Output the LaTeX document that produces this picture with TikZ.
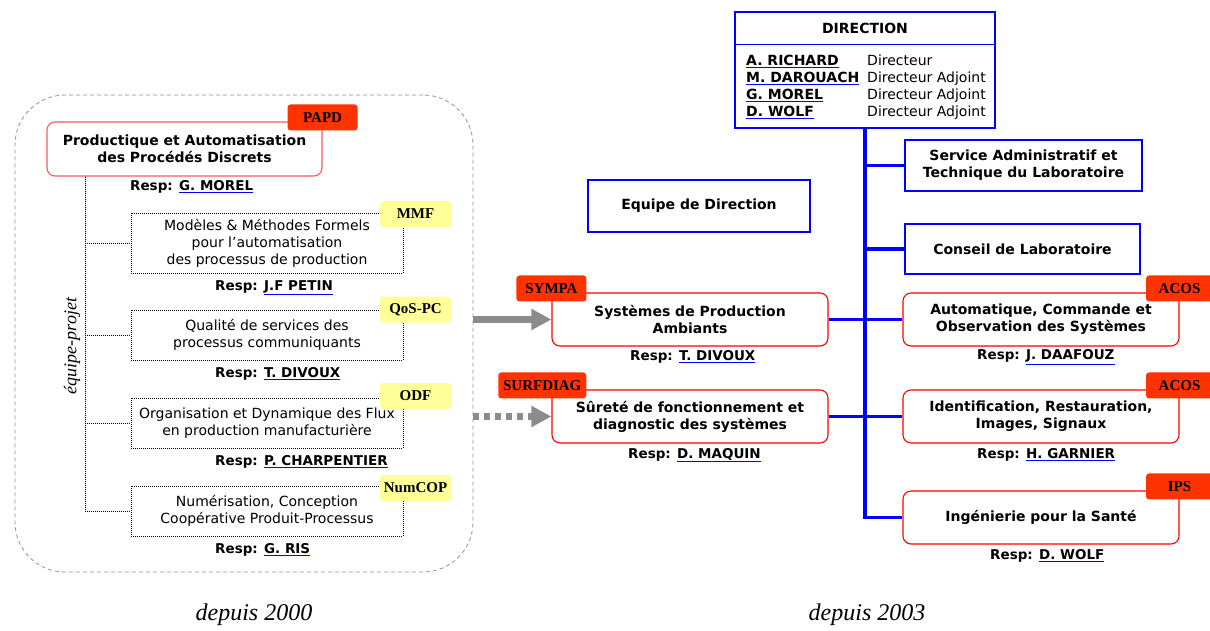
\documentclass[tikz,border=0pt]{standalone}
\usepackage{fontspec}
\setmainfont{DejaVu Sans}
\newfontfamily\tagfont{Liberation Serif}
\usetikzlibrary{arrows.meta,positioning}
\definecolor{tagred}{RGB}{255,51,0}
\definecolor{tagyellow}{RGB}{255,255,153}
\definecolor{linkgray}{RGB}{140,140,140}
\newcommand{\who}[1]{\textcolor{blue}{$\underline{\hbox{\color{black}#1}}$}}
\newcommand{\resp}[1]{\textbf{Resp: \who{#1}}}
\tikzset{
  frame/.style     = {shape=rectangle, rounded corners=50pt, draw=gray!85,
                      line width=0.8pt, dash pattern=on 4pt off 3pt,
                      minimum width=458pt, minimum height=477pt},
  papd/.style      = {shape=rectangle, rounded corners=8pt, draw=red!65,
                      line width=1.1pt, fill=white, align=center,
                      font=\bfseries\fontsize{14}{17}\selectfont,
                      minimum width=275pt, minimum height=54pt},
  team/.style      = {papd, draw=red, minimum width=276pt, minimum height=53pt},
  project/.style   = {shape=rectangle, draw, line width=0.9pt,
                      dash pattern=on 1pt off 1pt, fill=white, align=center,
                      font=\fontsize{14}{17}\selectfont,
                      minimum width=272pt, minimum height=50pt},
  service/.style   = {shape=rectangle, draw=blue, line width=1.3pt, align=center,
                      font=\bfseries\fontsize{14}{17}\selectfont,
                      minimum width=236pt, minimum height=51pt},
  redtag/.style    = {shape=rectangle, rounded corners=3pt, fill=tagred,
                      font=\tagfont\bfseries\fontsize{15}{15}\selectfont,
                      minimum width=70pt, minimum height=26pt, inner sep=1pt},
  yellowtag/.style = {redtag, fill=tagyellow, minimum width=71pt},
  resp/.style      = {font=\fontsize{13.5}{16}\selectfont, inner sep=0pt},
  leaf/.style      = {draw, line width=0.9pt, dash pattern=on 1pt off 1pt},
  trunk/.style     = {draw=blue, line width=3.5pt},
  move/.style      = {draw=linkgray, line width=6.5pt,
                      -{Triangle[length=20pt,width=20pt]}},
  era/.style       = {font=\tagfont\itshape\fontsize{24}{24}\selectfont}
}

\begin{document}
\begin{tikzpicture}[x=1pt,y=-1pt]
\useasboundingbox (0,0) rectangle (1210,630);

% depuis 2000
\node [frame] (frame) at (244,333.5) {};
\node [papd] (papd) at (184.5,149) {Productique et Automatisation\\des Procédés Discrets};
\node [redtag] (papdtag) at ([yshift=4pt]papd.north east) {PAPD};
\node [resp, anchor=west] (papdresp) at (130,187) {\resp{G. MOREL}};

\node [project, minimum height=60pt] (mmf) at (267,243)
  {Modèles \& Méthodes Formels\\pour l’automatisation\\des processus de production};
\node [project] (qos)    at (267,335) {Qualité de services des\\processus communiquants};
\node [project] (odf)    at (267,423) {Organisation et Dynamique des Flux\\en production manufacturière};
\node [project] (numcop) at (267,511) {Numérisation, Conception\\Coopérative Produit-Processus};
\node [yellowtag] (mmftag)    at (415.5,214)   {MMF};
\node [yellowtag] (qostag)    at (415.5,309.5) {QoS-PC};
\node [yellowtag] (odftag)    at (415.5,396)   {ODF};
\node [yellowtag] (numcoptag) at (415.5,488)   {NumCOP};
\node [resp, anchor=west] (mmfresp)    at (215,288) {\resp{J.F PETIN}};
\node [resp, anchor=west] (qosresp)    at (215,374) {\resp{T. DIVOUX}};
\node [resp, anchor=west] (odfresp)    at (215,462) {\resp{P. CHARPENTIER}};
\node [resp, anchor=west] (numcopresp) at (215,550) {\resp{G. RIS}};

\draw [leaf] ([xshift=39pt]papd.south west) |- (numcop.west);
\foreach \p in {mmf,qos,odf}
  \draw [leaf] ([xshift=39pt]papd.south west) |- (\p.west);

\node [rotate=90, font=\tagfont\itshape\fontsize{18}{18}\selectfont] (projlabel) at (72,346) {équipe-projet};

% depuis 2003
\node [service, minimum width=260pt, minimum height=116pt] (dir) at (865,70) {};
\node [font=\bfseries\fontsize{14}{17}\selectfont, minimum height=33pt, inner sep=0pt,
       below=0pt of dir.north] (dirhead) {DIRECTION};
\draw [blue, line width=1.3pt] (dir.west |- dirhead.south) -- (dir.east |- dirhead.south);
\node [anchor=west, inner sep=0pt, font=\fontsize{14}{17}\selectfont] (dirstaff) at (746,87.5)
  {\begin{tabular}{@{}l@{\hspace{8pt}}l@{}}
   \who{\textbf{A. RICHARD}}  & Directeur\\
   \who{\textbf{M. DAROUACH}} & Directeur Adjoint\\
   \who{\textbf{G. MOREL}}    & Directeur Adjoint\\
   \who{\textbf{D. WOLF}}     & Directeur Adjoint
   \end{tabular}};

\node [service, minimum width=237pt] (sat)     at (1023.5,165.5) {Service Administratif et\\Technique du Laboratoire};
\node [service, minimum width=222pt, minimum height=52pt] (eqdir) at (699,206) {Equipe de Direction};
\node [service, minimum width=235pt, minimum height=50pt] (conseil) at (1022.5,249) {Conseil de Laboratoire};

\node [team] (sympa) at (690,319.5)  {Systèmes de Production\\Ambiants};
\node [team] (acosa) at (1041,319.5) {Automatique, Commande et\\Observation des Systèmes};
\node [team] (surf)  at (690,416.5)  {Sûreté de fonctionnement et\\diagnostic des systèmes};
\node [team] (acosb) at (1041,416.5) {Identification, Restauration,\\Images, Signaux};
\node [team] (ips)   at (1041,517.5) {Ingénierie pour la Santé};

\node [redtag] (sympatag) at ([yshift=4pt]sympa.north west) {SYMPA};
\node [redtag, minimum width=88pt, anchor=east] (surftag) at ([xshift=35pt,yshift=4pt]surf.north west) {SURFDIAG};
\node [redtag, minimum width=67pt] (acosatag) at ([yshift=4pt]acosa.north east) {ACOS};
\node [redtag, minimum width=67pt] (acosbtag) at ([yshift=4pt]acosb.north east) {ACOS};
\node [redtag, minimum width=67pt] (ipstag)   at ([yshift=4pt]ips.north east)   {IPS};

\node [resp, anchor=west] (sympresp) at (630,357) {\resp{T. DIVOUX}};
\node [resp, anchor=west] (surfresp) at (628,455) {\resp{D. MAQUIN}};
\node [resp, anchor=west] (acosaresp) at (977,357) {\resp{J. DAAFOUZ}};
\node [resp, anchor=west] (acosbresp) at (977,455) {\resp{H. GARNIER}};
\node [resp, anchor=west] (ipsresp)   at (990,556) {\resp{D. WOLF}};

\draw [trunk] (dir.south) -- (dir.south |- ips.west) -- (ips.west);
\draw [trunk] (dir.south |- sat.west) -- (sat.west);
\draw [trunk] (dir.south |- conseil.west) -- (conseil.west);
\draw [trunk] (sympa.east) -- (acosa.west);
\draw [trunk] (surf.east) -- (acosb.west);

% passage 2000 -> 2003
\draw [move] (frame.east |- sympa.west) -- (sympa.west);
\draw [move, dash pattern=on 6pt off 5pt] (frame.east |- surf.west) -- (surf.west);

\node [era] (era1) at (254,615) {depuis 2000};
\node [era] (era2) at (867,615) {depuis 2003};
\end{tikzpicture}
\end{document}
